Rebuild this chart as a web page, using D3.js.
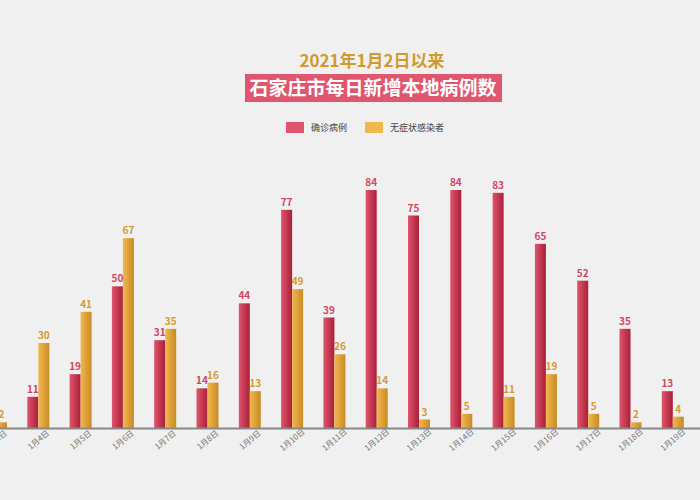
<!doctype html>
<html>
<head>
<meta charset="utf-8">
<script src="https://d3js.org/d3.v7.min.js"></script>
<style>
body { margin:0; background:#f0f0f0; }
text { font-family: "Noto Sans CJK SC", sans-serif; }
</style>
</head>
<body>
<div id="chart"></div>
<script>
var days = ["1月3日","1月4日","1月5日","1月6日","1月7日","1月8日","1月9日","1月10日","1月11日","1月12日","1月13日","1月14日","1月15日","1月16日","1月17日","1月18日","1月19日"];
var confirmed = [4,11,19,50,31,14,44,77,39,84,75,84,83,65,52,35,13];
var asymptomatic = [2,30,41,67,35,16,13,49,26,14,3,5,11,19,5,2,4];

var W = 700, H = 500, base = 428;
var svg = d3.select("#chart").append("svg").attr("width", W).attr("height", H);

var defs = svg.append("defs");
function grad(id, c1, c2) {
    var g = defs.append("linearGradient").attr("id", id);
    g.append("stop").attr("offset", "0%").attr("stop-color", c1);
    g.append("stop").attr("offset", "100%").attr("stop-color", c2);
}
grad("gr", "#e0546c", "#a82038");
grad("gy", "#f2b850", "#c98a22");

// group centres: 1月3日 at -4, step 42.3
var x = d3.scaleBand().domain(days).range([-25.15, -25.15 + 42.3 * days.length]).padding(0);
var y = d3.scaleLinear().domain([0, 84]).range([base, 190]);
var bw = 11;

var g = svg.selectAll(".grp").data(days).enter().append("g")
    .attr("transform", function (d) { return "translate(" + (x(d) + x.bandwidth() / 2) + ",0)"; });

g.append("rect").attr("x", -bw).attr("width", bw)
    .attr("y", function (d, i) { return y(confirmed[i]); })
    .attr("height", function (d, i) { return base - y(confirmed[i]); })
    .attr("fill", "url(#gr)");
g.append("rect").attr("x", 0).attr("width", bw)
    .attr("y", function (d, i) { return y(asymptomatic[i]); })
    .attr("height", function (d, i) { return base - y(asymptomatic[i]); })
    .attr("fill", "url(#gy)");
g.append("text").attr("x", -bw / 2).attr("text-anchor", "middle")
    .attr("y", function (d, i) { return y(confirmed[i]) - 4; })
    .attr("font-size", 10).attr("font-weight", "bold").attr("fill", "#d04560")
    .text(function (d, i) { return confirmed[i]; });
g.append("text").attr("x", bw / 2).attr("text-anchor", "middle")
    .attr("y", function (d, i) { return y(asymptomatic[i]) - 4; })
    .attr("font-size", 10).attr("font-weight", "bold").attr("fill", "#d49a30")
    .text(function (d, i) { return asymptomatic[i]; });
g.append("text").attr("transform", "translate(2,442) rotate(-40)")
    .attr("text-anchor", "middle").attr("font-size", 8).attr("fill", "#777")
    .text(function (d) { return d; });

svg.append("line").attr("x1", 0).attr("x2", W).attr("y1", base + 0.5).attr("y2", base + 0.5)
    .attr("stroke", "#888").attr("stroke-width", 2);

// title
svg.append("text").attr("x", 372).attr("y", 67).attr("text-anchor", "middle")
    .attr("font-size", 17).attr("font-weight", "bold").attr("fill", "#d19a2a")
    .text("2021年1月2日以来");
svg.append("rect").attr("x", 245).attr("y", 74).attr("width", 257).attr("height", 28).attr("fill", "#e0566e");
svg.append("text").attr("x", 373).attr("y", 95).attr("text-anchor", "middle")
    .attr("font-size", 19).attr("font-weight", "bold").attr("fill", "#fff")
    .text("石家庄市每日新增本地病例数");

// legend
svg.append("rect").attr("x", 286).attr("y", 122).attr("width", 18).attr("height", 11).attr("fill", "#e0546c");
svg.append("text").attr("x", 311).attr("y", 131).attr("font-size", 9).attr("fill", "#444").text("确诊病例");
svg.append("rect").attr("x", 365).attr("y", 122).attr("width", 18).attr("height", 11).attr("fill", "#f2b850");
svg.append("text").attr("x", 390).attr("y", 131).attr("font-size", 9).attr("fill", "#444").text("无症状感染者");
</script>
</body>
</html>
